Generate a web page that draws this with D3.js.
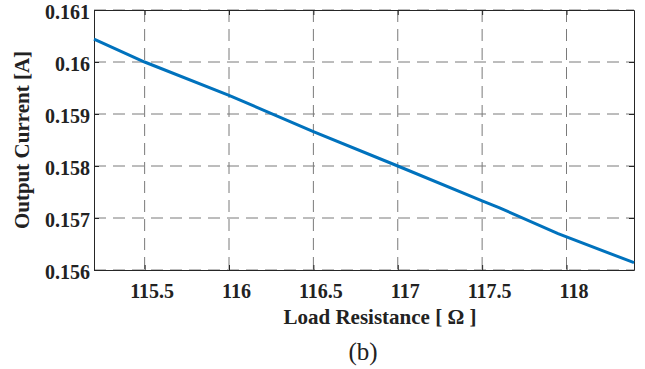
<!DOCTYPE html>
<html>
<head>
<meta charset="utf-8">
<script src="https://cdn.jsdelivr.net/npm/d3@7"></script>
<style>
  body { margin: 0; background: #fff; }
  text { font-family: "Liberation Serif", "Times New Roman", serif; fill: #222; }
</style>
</head>
<body>
<script>
// load resistance (ohm) vs output current (A)
const resistance = [115.2, 115.5, 116.0, 116.5, 117.0, 117.5, 117.6, 117.95, 118.4]
const current = [0.16044, 0.16000, 0.15936, 0.15866, 0.15800, 0.15733, 0.15720, 0.15670, 0.15614]
const xTicks = [115.5, 116, 116.5, 117, 117.5, 118]
const yTicks = [0.156, 0.157, 0.158, 0.159, 0.16, 0.161]

const w = 645
const h = 369
const m = { left: 94, right: 11, top: 10, bottom: 99 }

const svg = d3.select('body')
  .append('svg')
  .attr('width', w)
  .attr('height', h)

const xScale = d3.scaleLinear()
  .domain([115.2, 118.4])
  .range([m.left, w - m.right])

const yScale = d3.scaleLinear()
  .domain([0.156, 0.161])
  .range([h - m.bottom, m.top])

// grid
svg.append('g')
  .selectAll('line')
  .data(xTicks)
  .enter()
  .append('line')
  .attr('x1', d => xScale(d))
  .attr('x2', d => xScale(d))
  .attr('y1', m.top)
  .attr('y2', h - m.bottom)
  .attr('stroke', '#7a7a7a')
  .attr('stroke-dasharray', '12,7')

svg.append('g')
  .selectAll('line')
  .data(yTicks)
  .enter()
  .append('line')
  .attr('x1', m.left)
  .attr('x2', w - m.right)
  .attr('y1', d => yScale(d))
  .attr('y2', d => yScale(d))
  .attr('stroke', '#7a7a7a')
  .attr('stroke-dasharray', '12,7')

const xAxis = d3.axisBottom(xScale)
  .tickValues(xTicks)
  .tickSizeInner(-5)
  .tickSizeOuter(0)
  .tickPadding(14)
  .tickFormat(d3.format('~g'))

const yAxis = d3.axisLeft(yScale)
  .tickValues(yTicks)
  .tickSizeInner(-5)
  .tickSizeOuter(0)
  .tickPadding(4)
  .tickFormat(d3.format('~g'))

svg.append('g')
  .attr('class', 'x-axis')
  .attr('transform', 'translate(0,' + (h - m.bottom) + ')')
  .call(xAxis)

svg.append('g')
  .attr('class', 'y-axis')
  .attr('transform', 'translate(' + m.left + ',0)')
  .call(yAxis)

// ticks on top and right sides too
svg.append('g')
  .attr('transform', 'translate(0,' + m.top + ')')
  .call(d3.axisTop(xScale).tickValues(xTicks).tickSizeInner(-5).tickSizeOuter(0).tickFormat(''))

svg.append('g')
  .attr('transform', 'translate(' + (w - m.right) + ',0)')
  .call(d3.axisRight(yScale).tickValues(yTicks).tickSizeInner(-5).tickSizeOuter(0).tickFormat(''))

svg.selectAll('.x-axis text, .y-axis text')
  .style('font-family', '"Liberation Serif", serif')
  .style('font-weight', 'bold')
  .style('font-size', '20px')
  .attr('fill', '#222')

svg.selectAll('.x-axis text').attr('dx', 7)
svg.selectAll('.y-axis text').attr('dy', '0.42em')

svg.selectAll('.domain, .tick line')
  .attr('stroke', '#262626')

// data line
const line = d3.line()
  .x((d, i) => xScale(resistance[i]))
  .y(d => yScale(d))

svg.append('path')
  .datum(current)
  .attr('d', line)
  .attr('fill', 'none')
  .attr('stroke', '#0072BD')
  .attr('stroke-width', 3)

// labels
svg.append('text')
  .attr('x', 380)
  .attr('y', 324)
  .attr('text-anchor', 'middle')
  .style('font-weight', 'bold')
  .style('font-size', '21px')
  .text('Load Resistance [ Ω ]')

svg.append('text')
  .attr('transform', `translate(29,${(m.top + h - m.bottom) / 2}) rotate(-90)`)
  .attr('text-anchor', 'middle')
  .style('font-weight', 'bold')
  .style('font-size', '21px')
  .text('Output Current [A]')

svg.append('text')
  .attr('x', 363)
  .attr('y', 360)
  .attr('text-anchor', 'middle')
  .style('font-size', '25px')
  .text('(b)')
</script>
</body>
</html>
